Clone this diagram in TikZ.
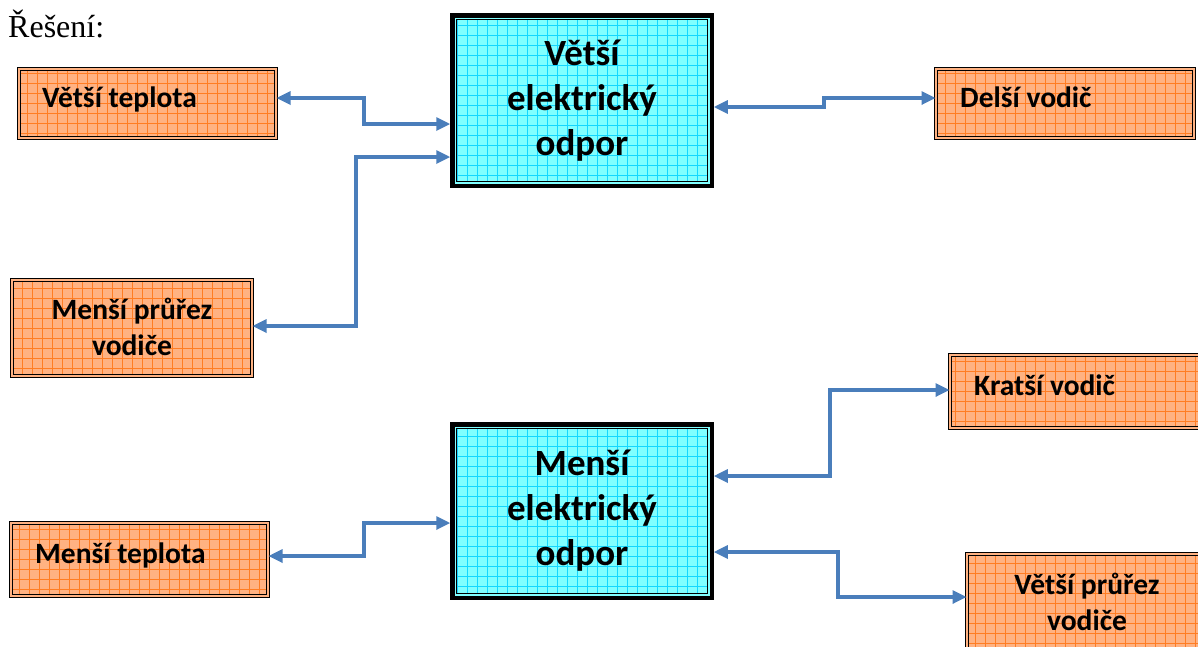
\documentclass[tikz,border=0pt]{standalone}
\usepackage{fontspec}
\setmainfont{Liberation Serif}
\newfontfamily\calib{Carlito}
\usetikzlibrary{arrows.meta}
\definecolor{cfill}{RGB}{128,255,255}
\definecolor{cgrid}{RGB}{20,215,255}
\definecolor{ofill}{RGB}{255,178,130}
\definecolor{ogrid}{RGB}{255,125,35}
\definecolor{ablue}{RGB}{74,126,187}
\tikzset{
  gridfill/.style={path picture={\draw[#1,line width=0.7pt] ([shift={(-20pt,20pt)}]path picture bounding box.north west) grid[step=10pt] ([shift={(20pt,-20pt)}]path picture bounding box.south east);}},
  obox/.style={draw=black, line width=1pt, double=ofill, double distance=2pt, fill=ofill, gridfill=ogrid, inner sep=0pt},
  cbox/.style={draw=black, line width=5.5pt, fill=cfill, gridfill=cgrid, inner sep=0pt},
  otext/.style={font=\calib\bfseries\fontsize{29.5}{36}\selectfont, align=center},
  ctext/.style={font=\calib\bfseries\fontsize{37}{45}\selectfont, align=center},
  olbl/.style={font=\calib\bfseries\fontsize{29.5}{36}\selectfont, anchor=base west, inner sep=0pt},
  arr/.style={draw=ablue, line width=3.2pt, {Triangle[length=14pt,width=13pt]}-{Triangle[length=14pt,width=13pt]}}
}
\begin{document}
\begin{tikzpicture}[x=1pt,y=-1pt]
\useasboundingbox (0,0) rectangle (1198,646);
\node[anchor=base west, inner sep=0pt, font=\fontsize{32}{36}\selectfont] (title) at (8,37) {Řešení:};
% center boxes
\node[cbox, minimum width=258pt, minimum height=169pt, ctext] (top) at (582,100.5) {Větší\\elektrický\\odpor};
\node[cbox, minimum width=258pt, minimum height=172pt, ctext] (bot) at (582,511) {Menší\\elektrický\\odpor};
\foreach \n in {top,bot}{
  \draw[line width=0.6pt, double=cfill, double distance=1.5pt] ([shift={(5pt,-5pt)}]\n.north west) rectangle ([shift={(-5pt,5pt)}]\n.south east);
}
% orange boxes
\node[obox, minimum width=257pt, minimum height=69pt] (vt) at (147.5,103.5) {};
\node[olbl] (vtt) at (42,107) {Větší teplota};
\node[obox, minimum width=258pt, minimum height=69pt] (dv) at (1065,103.5) {};
\node[olbl] (dvt) at (960,107) {Delší vodič};
\node[obox, minimum width=240pt, minimum height=96pt] (mp) at (132,328) {};
\node[otext, anchor=base, inner sep=0pt] (mpt) at (132,355) {Menší průřez\\vodiče};
\node[obox, minimum width=250pt, minimum height=73pt] (kv) at (1075,391.5) {};
\node[olbl] (kvt) at (974,395) {Kratší vodič};
\node[obox, minimum width=257pt, minimum height=73pt] (mt) at (139.5,559.5) {};
\node[olbl] (mtt) at (35,563) {Menší teplota};
\node[obox, minimum width=236pt, minimum height=99pt] (vp) at (1085,603.5) {};
\node[otext, anchor=base, inner sep=0pt] (vpt) at (1087,630) {Větší průřez\\vodiče};
% arrows
\draw[arr] (vt.east |- 0,98) -- (364,98) -- (364,124) -- (top.west |- 0,124);
\draw[arr] (mp.east |- 0,326) -- (356,326) -- (356,157) -- (top.west |- 0,157);
\draw[arr] (top.east |- 0,107) -- (824,107) -- (824,98) -- (dv.west |- 0,98);
\draw[arr] (bot.east |- 0,476) -- (830,476) -- (830,390) -- (kv.west |- 0,390);
\draw[arr] (mt.east |- 0,556) -- (364,556) -- (364,523) -- (bot.west |- 0,523);
\draw[arr] (bot.east |- 0,552) -- (838,552) -- (838,597) -- (vp.west |- 0,597);
\end{tikzpicture}
\end{document}
